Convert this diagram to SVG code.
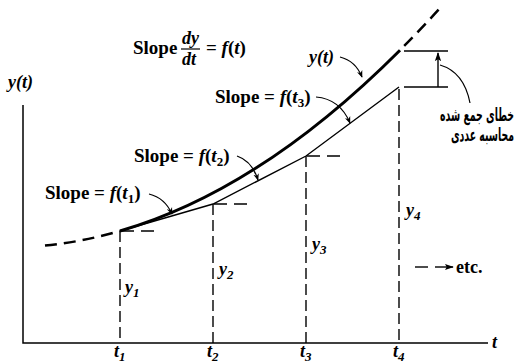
<svg xmlns="http://www.w3.org/2000/svg" width="517" height="364" viewBox="0 0 517 364">
<style>
.ax{stroke:#000;stroke-width:1.5;fill:none}
.thick{stroke:#000;stroke-width:3;fill:none}
.thin{stroke:#000;stroke-width:1.4;fill:none}
.dsh{stroke:#000;stroke-width:1.4;fill:none;stroke-dasharray:11 5}
.hd{stroke:#000;stroke-width:1.4;fill:none;stroke-dasharray:13 7}
.cd{stroke:#000;stroke-width:2.5;fill:none;stroke-dasharray:12 7}
.ld{stroke:#000;stroke-width:1.2;fill:none}
.lb{font-family:"Liberation Serif",serif;font-size:18px;font-weight:bold;fill:#000}
.sl{font-size:19px}
.it{font-style:italic}
.sub{font-size:13px}
.fa{font-family:"DejaVu Sans",sans-serif;font-size:18px;font-weight:bold;fill:#000}
</style>
<defs>
<marker id="ah" viewBox="0 0 10 10" refX="9" refY="5" markerWidth="7" markerHeight="7" markerUnits="userSpaceOnUse" orient="auto">
<path d="M0,1 L10,5 L0,9 L3,5 Z" fill="#000"/>
</marker>
<marker id="ah2" viewBox="0 0 10 10" refX="9" refY="5" markerWidth="9" markerHeight="9" markerUnits="userSpaceOnUse" orient="auto">
<path d="M0,1.5 L10,5 L0,8.5 L2,5 Z" fill="#000"/>
</marker>
</defs>

<g id="axes">
<path class="ax" d="M23,105 L23,343 L488,343"/>
<text class="lb it" x="8" y="88">y(t)</text>
<text class="lb it" x="492" y="348">t</text>
</g>

<g id="curve">
<path class="cd" d="M45,245.6 Q82.5,241.9 120,231"/>
<path class="thick" d="M120,231 Q260,190.4 400,50.2"/>
<path class="cd" d="M400,50.2 Q421.5,28.7 443,4.8" style="stroke-dashoffset:-6"/>
</g>

<g id="euler">
<path class="thin" d="M120,231 L213,204 L306,156 L399,87"/>
</g>

<g id="connectors">
<path class="dsh" d="M120,231 L120,343"/>
<path class="dsh" d="M213,204 L213,343"/>
<path class="dsh" d="M306,156 L306,343"/>
<path class="dsh" d="M399,89 L399,343"/>
<path class="hd" d="M121,231 L154,231"/>
<path class="hd" d="M214,204 L247,204"/>
<path class="hd" d="M307,156 L340,156"/>
<path class="thin" d="M404,87 L448,87"/>
<path class="thin" d="M404,51 L448,51"/>
<path class="thin" d="M438,87 L438,53" marker-end="url(#ah2)"/>
<path class="ld" d="M440,65 Q464,72 470,103"/>
<path class="ld" d="M340,57 C352,60 358,67 362,77" marker-end="url(#ah)"/>
<path class="ld" d="M316,97 Q340,99 350,123" marker-end="url(#ah)"/>
<path class="ld" d="M237,156 Q252,161 258,180" marker-end="url(#ah)"/>
<path class="ld" d="M149,194 Q165,198 172,214" marker-end="url(#ah)"/>
<path class="thin" d="M415,267 L428,267"/>
<path class="thin" d="M435,267 L453,267" marker-end="url(#ah2)"/>
</g>

<g id="title">
<text class="lb sl" x="133" y="54">Slope</text>
<text class="lb it" x="182" y="44">dy</text>
<path d="M181,49 L200,49" stroke="#000" stroke-width="1.2"/>
<text class="lb it" x="182" y="65">dt</text>
<text class="lb sl" x="206" y="54">= <tspan class="it">f</tspan>(<tspan class="it">t</tspan>)</text>
</g>

<g id="label-yt">
<text class="lb it" x="309" y="63">y(t)</text>
</g>

<g id="label-s3">
<text class="lb sl" x="215" y="103">Slope = <tspan class="it">f</tspan>(<tspan class="it">t</tspan><tspan class="sub" dy="4">3</tspan><tspan dy="-4">)</tspan></text>
</g>
<g id="label-s2">
<text class="lb sl" x="134" y="162">Slope = <tspan class="it">f</tspan>(<tspan class="it">t</tspan><tspan class="sub" dy="4">2</tspan><tspan dy="-4">)</tspan></text>
</g>
<g id="label-s1">
<text class="lb sl" x="45" y="199">Slope = <tspan class="it">f</tspan>(<tspan class="it">t</tspan><tspan class="sub" dy="4">1</tspan><tspan dy="-4">)</tspan></text>
</g>

<g id="error-label">
<text class="fa" transform="translate(514,121) scale(0.52,1)" text-anchor="end">خطای جمع شده</text>
<text class="fa" transform="translate(514,141) scale(0.52,1)" text-anchor="end">محاسبه عددی</text>
</g>

<g id="y-labels">
<text class="lb it" x="125" y="293">y<tspan class="sub" dy="4">1</tspan></text>
<text class="lb it" x="219" y="275">y<tspan class="sub" dy="4">2</tspan></text>
<text class="lb it" x="312" y="250">y<tspan class="sub" dy="4">3</tspan></text>
<text class="lb it" x="406" y="216">y<tspan class="sub" dy="4">4</tspan></text>
</g>

<g id="t-labels">
<text class="lb it" x="114" y="357">t<tspan class="sub" dy="4">1</tspan></text>
<text class="lb it" x="207" y="357">t<tspan class="sub" dy="4">2</tspan></text>
<text class="lb it" x="300" y="357">t<tspan class="sub" dy="4">3</tspan></text>
<text class="lb it" x="393" y="357">t<tspan class="sub" dy="4">4</tspan></text>
</g>

<g id="etc">
<text class="lb" x="456" y="273">etc.</text>
</g>
</svg>
